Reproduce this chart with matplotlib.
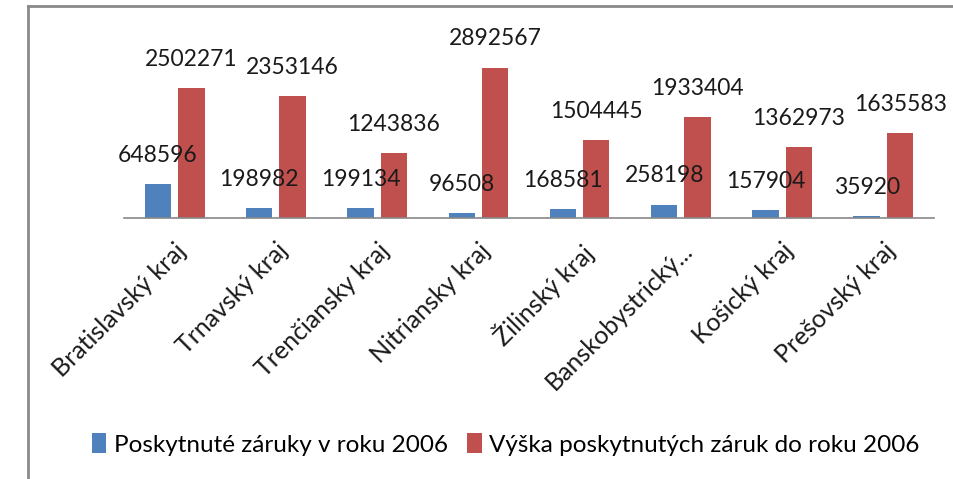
import matplotlib.pyplot as plt
from matplotlib.lines import Line2D
import numpy as np

# Dáta z grafu
kraje = ["Bratislavský kraj", "Trnavský kraj", "Trenčiansky kraj", "Nitriansky kraj",
         "Žilinský kraj", "Banskobystrický...", "Košický kraj", "Prešovský kraj"]
zaruky_2006 = [648596, 198982, 199134, 96508, 168581, 258198, 157904, 35920]
vyska_do_2006 = [2502271, 2353146, 1243836, 2892567, 1504445, 1933404, 1362973, 1635583]

serie1 = "Poskytnuté záruky v roku 2006"
serie2 = "Výška poskytnutých záruk do roku 2006"

plt.rcParams['font.family'] = ['Lato', 'DejaVu Sans']

fig = plt.figure(figsize=(9.54, 4.79), dpi=100)
ax = fig.add_axes([0.130, 0.545, 0.849, 0.38])

x = np.arange(len(kraje))
w = 0.26
off = 0.165
b1 = ax.bar(x - off, zaruky_2006, w, color='#4F81BD', label=serie1)
b2 = ax.bar(x + off, vyska_do_2006, w, color='#C0504D', label=serie2)

for bars, vals in ((b1, zaruky_2006), (b2, vyska_do_2006)):
    for r, v in zip(bars, vals):
        ax.annotate(str(v), (r.get_x() + r.get_width() / 2, r.get_height()),
                    xytext=(0, 13), textcoords='offset points',
                    ha='center', va='bottom', fontsize=16.5, color='#1a1a1a')

ax.set_xlim(-0.5, len(kraje) - 0.5)
ax.set_ylim(0, 3500000)
ax.set_yticks([])
ax.set_xticks(x)
ax.set_xticklabels(kraje, rotation=45, ha='right', rotation_mode='anchor',
                   fontsize=18, color='#1a1a1a')
ax.tick_params(axis='x', length=0, pad=15)
for s in ('top', 'right', 'left'):
    ax.spines[s].set_visible(False)
ax.spines['bottom'].set_color('#888888')
ax.spines['bottom'].set_linewidth(1.2)

fig.legend(handles=[b1, b2], loc='center', bbox_to_anchor=(0.53, 0.072), ncol=2,
           frameon=False, fontsize=17.5, handlelength=0.6, handleheight=0.9,
           handletextpad=0.3, columnspacing=0.8)

# rámček grafu
fig.add_artist(Line2D([28 / 954, 28 / 954], [0, 1 - 6 / 479], transform=fig.transFigure,
                      color='#8a8a8a', lw=2))
fig.add_artist(Line2D([28 / 954, 1], [1 - 6 / 479, 1 - 6 / 479], transform=fig.transFigure,
                      color='#8a8a8a', lw=2))

fig.savefig('out.png', dpi=100)
